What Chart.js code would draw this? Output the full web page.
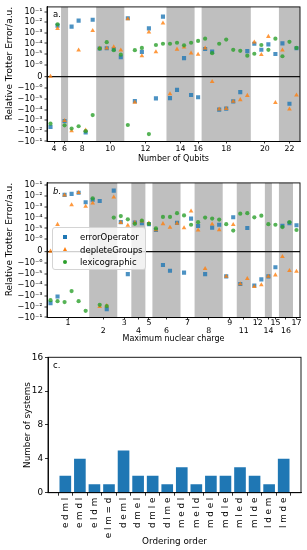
<!DOCTYPE html>
<html>
<head>
<meta charset="utf-8">
<script src="https://cdn.jsdelivr.net/npm/chart.js@4/dist/chart.umd.min.js"></script>
<style>
  html, body { margin: 0; padding: 0; background: #fff; }
  body { width: 307px; height: 550px; position: relative; overflow: hidden; font-family: "DejaVu Sans", sans-serif; color: #000; }
  .panel { position: absolute; left: 0; width: 307px; }
  .tag { position: absolute; font-size: 8.5px; line-height: 1; }
  .legend { position: absolute; left: 52px; top: 227px; width: 94px; height: 43px; box-sizing: border-box;
            background: rgba(255,255,255,0.8); border: 1px solid #d4d4d4; border-radius: 3px; }
  .entry { position: absolute; left: 0; height: 10px; font-size: 8.5px; line-height: 10px; white-space: nowrap; }
  .entry span.txt { position: absolute; left: 27px; top: 0; }
  .mk { position: absolute; }
  .mk.sq { left: 10px; top: 3px; width: 4px; height: 4px; background: #1f77b4; }
  .mk.tri { left: 9.5px; top: 2.5px; width: 0; height: 0; border-left: 2.5px solid transparent; border-right: 2.5px solid transparent; border-bottom: 4.5px solid #ff7f0e; }
  .mk.dot { left: 10px; top: 3px; width: 4px; height: 4px; border-radius: 50%; background: #2ca02c; }
</style>
</head>
<body>
<div class="panel" style="top:0;height:168px"><canvas id="chartA"></canvas></div>
<div class="panel" style="top:176px;height:170px"><canvas id="chartB"></canvas></div>
<div class="panel" style="top:350px;height:200px"><canvas id="chartC"></canvas></div>

<div class="tag" style="left:53px;top:10px">a.</div>
<div class="tag" style="left:53px;top:187px;font-style:italic">b.</div>
<div class="tag" style="left:53px;top:361px">c.</div>

<div class="legend">
  <div class="entry" style="top:4px"><div class="mk sq"></div><span class="txt">errorOperator</span></div>
  <div class="entry" style="top:16.5px"><div class="mk tri"></div><span class="txt">depleteGroups</span></div>
  <div class="entry" style="top:29px"><div class="mk dot"></div><span class="txt">lexicographic</span></div>
</div>

<script>
// ---- data ----
const qubitLabels = ["4", "6", "8", "10", "12", "14", "16", "18", "20", "22"];
const qubitGroupSizes = [2, 1, 4, 4, 6, 4, 1, 7, 4, 3];

const chargeLabels = ["1", "2", "3", "4", "5", "6", "7", "8", "9", "11", "12", "14", "15", "16", "17"];
const chargeGroupSizes = [6, 4, 2, 2, 1, 4, 2, 4, 2, 2, 2, 1, 1, 2, 1];

const symlogTicks = [1e-1, 1e-2, 1e-3, 1e-4, 1e-5, 1e-6, 0, -1e-6, -1e-5, -1e-4, -1e-3, -1e-2, -1e-1];
const symlogTickLabels = ["10⁻¹", "10⁻²", "10⁻³", "10⁻⁴", "10⁻⁵", "10⁻⁶", "0",
  "−10⁻⁶", "−10⁻⁵", "−10⁻⁴", "−10⁻³", "−10⁻²", "−10⁻¹"];

// panel a: systems sorted by number of qubits
const errOpA = [-4.3e-3, 4.7e-3, -1.2e-3, 3.8e-3, 1.4e-2, -1.4e-2, 1.7e-2, 3.3e-5, 3.5e-5, 2.8e-5,
  5e-6, 2.3e-2, -1.6e-5, 1.6e-5, 2.6e-3, -8.9e-6, 3.3e-2, -8.3e-6, -1.4e-6, 4.1e-6,
  -4.2e-6, -6.8e-6, 3.0e-5, 1.7e-5, -1e-4, -8.1e-5, -1.7e-5, -2.3e-6, 1.9e-5, 9.3e-5,
  2.5e-5, 8.1e-5, 1e-5, 1e-4, -2.8e-5, 3.5e-5];
const depleteA = [0, 2.5e-3, -1.1e-3, -1e-2, 2.3e-5, -8.7e-3, 1.6e-3, 3.5e-5, 3.5e-5, 4.7e-5,
  2.3e-5, 2e-2, -2.1e-5, 6.6e-6, 1.15e-3, 1.6e-5, 8.1e-3, -3.3e-6, 2.8e-5, 4.4e-5,
  1.2e-5, 9.3e-6, 3.5e-5, -4.4e-7, -9e-5, -8e-5, -1.7e-5, -1.2e-5, -4.8e-6, 1.3e-4,
  8.7e-6, 4.4e-4, -2.2e-5, 2.3e-5, -9.3e-5, -4.5e-6];
const lexiA = [-2.1e-3, 6.2e-3, -3e-3, -6e-3, -3.7e-3, -1.07e-2, -3.3e-4, 3.3e-5, 1.3e-4, 2.3e-5,
  8.7e-6, -2.8e-3, 2.3e-5, 3.8e-5, -2e-2, 7.1e-5, 9.3e-5, 9.3e-5, 1.15e-4, 6.6e-5,
  1.15e-4, 1.7e-4, 2.8e-4, 1.2e-5, 9.3e-5, 2.3e-4, 2.5e-5, 2e-5, 7.1e-6, 1.07e-5,
  7.1e-5, 2.5e-5, 2.8e-4, 6.2e-6, 1.4e-4, 3.8e-5];

// panel b: systems sorted by maximum nuclear charge
const errOpB = [-4.7e-3, -1.15e-3, 1.26e-2, 1.55e-2, 2e-2, 2.6e-3, 4.5e-3, 3.4e-3, -1.7e-2, 3.1e-2,
  3.8e-5, -9.8e-6, 3.5e-5, 3.1e-5, 2.5e-5, 7.2e-6, -1.4e-6, -4.8e-6, 3.3e-5, -7.2e-6,
  8.1e-5, 1.7e-5, -9.8e-6, 1.2e-5, 2.2e-5, -1.6e-5, 1.07e-4, -8.1e-5, 1.1e-5, -1.1e-4,
  -3e-5, -1.6e-5, -2.3e-6, 1.8e-5, 3.1e-5, 2e-5];
const depleteB = [0, 2.3e-5, 1.2e-2, 1.5e-3, 2e-2, 1.1e-3, 2.2e-3, -1e-2, -8.3e-3, 7.8e-3,
  3.5e-5, 1.9e-5, 3.5e-5, 4.7e-5, 3.1e-5, 7.2e-6, 2.7e-5, 1.26e-5, 2.9e-5, 1.1e-5,
  4e-4, 6.8e-6, -3.1e-6, 2.5e-5, 7.2e-6, -1.6e-5, 2.2e-5, -8.1e-5, -2.6e-5, -1.45e-4,
  -1e-4, -1.6e-5, -1.2e-5, -4.4e-7, -4.8e-6, -5.5e-6];
const lexiB = [-2.5e-3, -3.1e-3, -3.8e-3, -3.6e-4, -3.1e-3, -2.4e-2, 5.9e-3, -6.8e-3, -8.9e-3, 1e-4,
  1.4e-4, 7e-5, 2.7e-5, 5.4e-5, 2.7e-5, 1e-5, 1.15e-4, 1.15e-4, 2.6e-4, 1.6e-4,
  2.2e-5, 3.8e-5, 1e-4, 8.1e-5, 6.6e-5, 2.5e-5, 6.3e-6, 2.3e-4, 2.6e-4, 1.07e-4,
  1.5e-4, 2.5e-5, 2.2e-5, 1.35e-5, 3.8e-5, 7.2e-6];

// panel c
const orderings = ["e d m l", "e m d l", "e l d m", "e l m = d", "d e m l", "d m e l", "d m l e", "d l m e",
  "m e d l", "m e l d", "m d e l", "m d l e", "m l e d", "m l d e", "l d e m", "l m d e"];
const systemCounts = [2, 4, 1, 1, 5, 2, 2, 1, 3, 1, 2, 2, 3, 2, 1, 4];
const countTicks = [0, 4, 8, 12, 16];

// ---- symlog scale (linthresh 1e-6, linscale 1, like matplotlib) ----
const LINTHRESH = 1e-6;
const LINSCALE = 1 / (1 - 1 / 10);

function symT(v){
  const a = Math.abs(v);
  const t = a <= LINTHRESH ? (a / LINTHRESH) * LINSCALE : LINSCALE + Math.log10(a / LINTHRESH);
  return v < 0 ? -t : t;
}
function symInv(t){
  const a = Math.abs(t);
  const v = a <= LINSCALE ? (a / LINSCALE) * LINTHRESH : LINTHRESH * Math.pow(10, a - LINSCALE);
  return t < 0 ? -v : v;
}

class SymlogScale extends Chart.Scale {
  determineDataLimits(){
    const { min, max } = this.getMinMax(false);
    this.min = min;
    this.max = max;
  }
  buildTicks(){ return []; }
  configure(){
    super.configure();
    this._t0 = symT(this.min);
    this._t1 = symT(this.max);
  }
  getPixelForValue(v){
    return this.getPixelForDecimal((symT(v) - this._t0) / (this._t1 - this._t0));
  }
  getValueForPixel(p){
    return symInv(this._t0 + this.getDecimalForPixel(p) * (this._t1 - this._t0));
  }
}
SymlogScale.id = "symlog";
SymlogScale.defaults = {};
Chart.register(SymlogScale);

Chart.defaults.font.family = "'DejaVu Sans', sans-serif";
Chart.defaults.color = "#000";
Chart.defaults.animation = false;

// grey bands behind every second group + box round the axes
const bandsPlugin = {
  id: "bands",
  beforeDraw(chart, args, opts){
    if (!opts || !opts.sizes) return;
    const { ctx, chartArea: ca } = chart;
    const xs = chart.scales.x;
    ctx.save();
    ctx.fillStyle = "#bfbfbf";
    let start = 0;
    opts.sizes.forEach((n, g) => {
      if (g % 2 === 1){
        const x0 = Math.max(ca.left, xs.getPixelForValue(start - 0.5));
        const x1 = Math.min(ca.right, xs.getPixelForValue(start + n - 0.5));
        ctx.fillRect(x0, ca.top, x1 - x0, ca.bottom - ca.top);
      }
      start += n;
    });
    ctx.restore();
  }
};
const framePlugin = {
  id: "frame",
  afterDraw(chart){
    const { ctx, chartArea: ca } = chart;
    ctx.save();
    ctx.strokeStyle = "#000";
    ctx.lineWidth = 0.9;
    ctx.strokeRect(ca.left, ca.top, ca.right - ca.left, ca.bottom - ca.top);
    ctx.restore();
  }
};

function groupCenters(sizes){
  const out = [];
  let start = 0;
  for (const n of sizes){ out.push(start + (n - 1) / 2); start += n; }
  return out;
}
function pts(arr){ return arr.map((v, i) => ({ x: i, y: v })); }

function scatterSets(err, dep, lex){
  return [
    { label: "errorOperator", data: pts(err), pointStyle: "rect", pointRadius: 2.9,
      backgroundColor: "rgba(31,119,180,0.8)", borderWidth: 0, order: 3 },
    { label: "depleteGroups", data: pts(dep), pointStyle: "triangle", pointRadius: 2.7,
      backgroundColor: "rgba(255,127,14,0.8)", borderWidth: 0, order: 2 },
    { label: "lexicographic", data: pts(lex), pointStyle: "circle", pointRadius: 2.1,
      backgroundColor: "rgba(44,160,44,0.8)", borderWidth: 0, order: 1 },
  ];
}

function scatterChart(id, sets, sizes, labels, yMin, yMax, pad, xH, xTitle, twoRows){
  const centers = groupCenters(sizes);
  return new Chart(document.getElementById(id), {
    type: "scatter",
    data: { datasets: sets },
    plugins: [bandsPlugin, framePlugin],
    options: {
      responsive: true,
      maintainAspectRatio: false,
      devicePixelRatio: 1,
      events: [],
      layout: { padding: pad },
      plugins: { legend: { display: false }, tooltip: { enabled: false }, bands: { sizes } },
      scales: {
        x: {
          type: "linear", min: -0.5, max: 35.5, bounds: "data",
          afterBuildTicks: (s) => { s.ticks = centers.map(v => ({ value: v })); },
          afterFit: (s) => { s.height = xH; },
          grid: { drawOnChartArea: false, tickLength: 2, color: "#000", lineWidth: 0.8 },
          border: { color: "#000", width: 0.9 },
          ticks: {
            autoSkip: false, maxRotation: 0, padding: twoRows ? 0 : 1,
            font: { size: 7.8, lineHeight: twoRows ? 1.0 : 1.2 },
            callback: (v, i) => (twoRows && i % 2 === 1) ? ["", labels[i]] : labels[i]
          },
          title: { display: true, text: xTitle, font: { size: 8 }, padding: { top: 0, bottom: twoRows ? 2 : 4.7 } }
        },
        y: {
          type: "symlog", min: yMin, max: yMax,
          afterBuildTicks: (s) => { s.ticks = symlogTicks.map(v => ({ value: v })); },
          afterFit: (s) => { s.width = 47; },
          grid: {
            drawOnChartArea: true, tickLength: 2.5, tickColor: "#000", tickWidth: 0.8,
            color: (c) => (c.tick && c.tick.value === 0) ? "#111" : "rgba(0,0,0,0)",
            lineWidth: (c) => (c.tick && c.tick.value === 0) ? 1.3 : 0
          },
          border: { color: "#000", width: 0.9 },
          ticks: {
            autoSkip: false, padding: 2, font: { size: 8.2 },
            callback: (v, i) => symlogTickLabels[i]
          },
          title: { display: true, text: "Relative Trotter Error/a.u.", align: "end",
                   font: { size: 9 }, padding: { top: 4, bottom: 0 } }
        }
      }
    }
  });
}

scatterChart("chartA", scatterSets(errOpA, depleteA, lexiA), qubitGroupSizes, qubitLabels,
  -0.1, 0.27, { top: 4, right: 7, left: 0, bottom: 0 }, 26.5, "Number of Qubits", false);

scatterChart("chartB", scatterSets(errOpB, depleteB, lexiB), chargeGroupSizes, chargeLabels,
  -0.1, 0.16, { top: 5.7, right: 7, left: 0, bottom: 0 }, 28.5, "Maximum nuclear charge", true);

new Chart(document.getElementById("chartC"), {
  type: "bar",
  data: {
    datasets: [{
      label: "Number of systems",
      data: systemCounts.map((v, i) => ({ x: i, y: v })),
      backgroundColor: "#1f77b4", borderWidth: 0,
      categoryPercentage: 1, barPercentage: 0.8
    }]
  },
  plugins: [framePlugin],
  options: {
    responsive: true,
    maintainAspectRatio: false,
    devicePixelRatio: 1,
    events: [],
    layout: { padding: { top: 5.5, right: 6, left: 0, bottom: 0 } },
    plugins: { legend: { display: false }, tooltip: { enabled: false } },
    scales: {
      x: {
        type: "linear", min: -1.19, max: 16.19, bounds: "data", offset: false,
        afterBuildTicks: (s) => { s.ticks = orderings.map((_, i) => ({ value: i })); },
        afterFit: (s) => { s.height = 57.3; },
        grid: { drawOnChartArea: false, tickLength: 3, color: "#000", lineWidth: 0.8 },
        border: { color: "#000", width: 0.9 },
        ticks: { autoSkip: false, minRotation: 90, maxRotation: 90, padding: 2,
                 font: { size: 8.8 }, callback: (v, i) => orderings[i] },
        title: { display: true, text: "Ordering order", font: { size: 8.8 }, padding: { top: 0, bottom: 3 } }
      },
      y: {
        min: 0, max: 16,
        afterBuildTicks: (s) => { s.ticks = countTicks.map(v => ({ value: v })); },
        afterFit: (s) => { s.width = 48; },
        grid: { drawOnChartArea: false, tickLength: 3, color: "#000", lineWidth: 0.8 },
        border: { color: "#000", width: 0.9 },
        ticks: { autoSkip: false, padding: 2, font: { size: 8.8 } },
        title: { display: true, text: "Number of systems", font: { size: 8.8 }, padding: { top: 22.5, bottom: 0 } }
      }
    }
  }
});
</script>
</body>
</html>
